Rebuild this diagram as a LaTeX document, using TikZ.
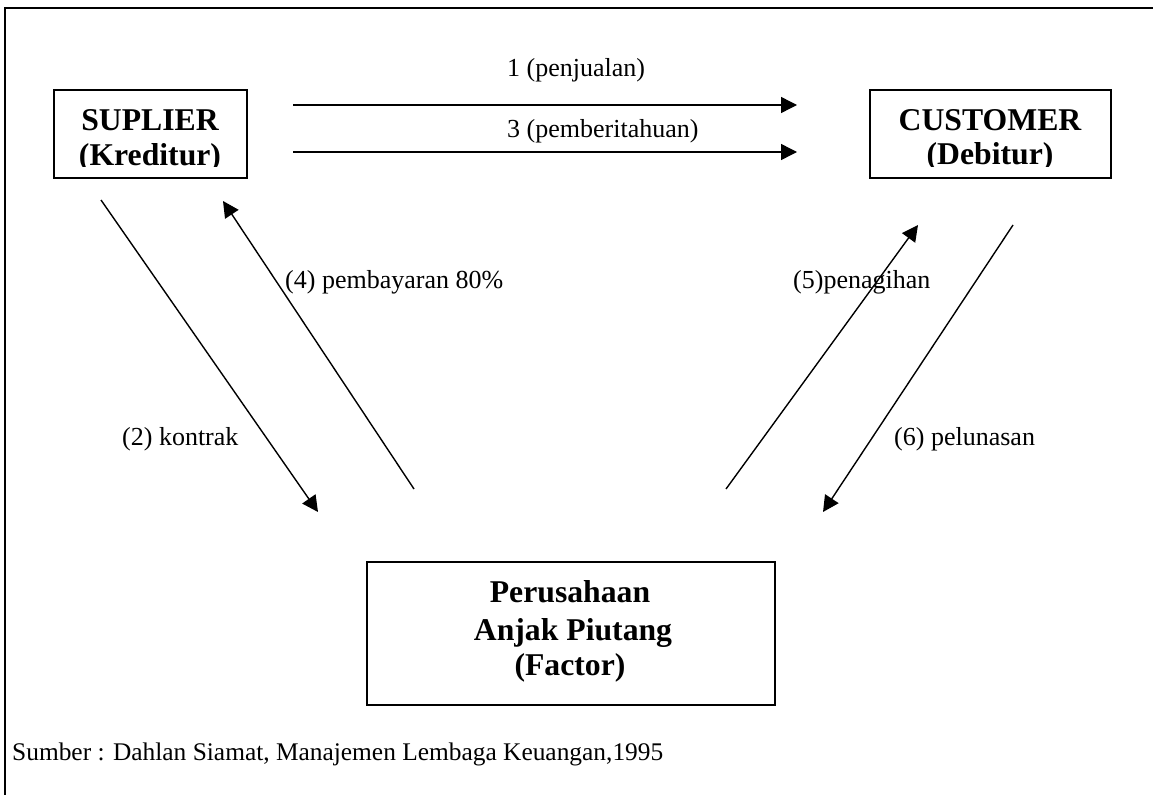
\documentclass[tikz,border=0pt]{standalone}
\usepackage{fontspec}
\setmainfont{Liberation Serif}
\usetikzlibrary{arrows.meta}
\begin{document}
\begin{tikzpicture}[x=1pt,y=-1pt,
  boxframe/.style={draw,line width=1.8pt,inner sep=0pt,anchor=north west},
  boxtext/.style={font=\fontsize{31.7}{35}\selectfont\bfseries,anchor=base,inner sep=0pt},
  lbl/.style={font=\fontsize{26}{30}\selectfont,anchor=base west,inner sep=0pt},
  flow/.style={line width=1.4pt,-{Triangle[length=16pt,width=16pt]}}]
\useasboundingbox (0,0) rectangle (1153,795);
% open frame (top and left edges)
\draw[line width=1.8pt] (1153,8) -- (5,8) -- (5,795);

% parties
\node[boxframe,minimum width=193pt,minimum height=88pt] (sup) at (53,89) {};
\node[boxframe,minimum width=241pt,minimum height=88pt] (cus) at (869,89) {};
\node[boxframe,minimum width=408pt,minimum height=143pt] (fac) at (366,561) {};

\begin{scope}
  \clip (53,89) rectangle (246,166);
  \node[boxtext] (supa) at (150,130) {SUPLIER};
  \node[boxtext] (supb) at (150,165) {(Kreditur)};
\end{scope}
\begin{scope}
  \clip (869,89) rectangle (1110,166);
  \node[boxtext] (cusa) at (990,130) {CUSTOMER};
  \node[boxtext] (cusb) at (990,164) {(Debitur)};
\end{scope}
\node[boxtext] (faca) at (570,602) {Perusahaan};
\node[boxtext] (facb) at (573,640) {Anjak Piutang};
\node[boxtext] (facc) at (570,675) {(Factor)};

% connector end points
\coordinate (s1) at (293,105);  \coordinate (e1) at (797,105);
\coordinate (s3) at (293,152);  \coordinate (e3) at (797,152);
\coordinate (s2) at (101,200);  \coordinate (e2) at (318,512);
\coordinate (s4) at (414,489);  \coordinate (e4) at (223,201);
\coordinate (s5) at (726,489);  \coordinate (e5) at (918,225);
\coordinate (s6) at (1013,225); \coordinate (e6) at (823,512);

\draw[flow] (s1) -- (e1);
\draw[flow] (s3) -- (e3);
\draw[flow] (s2) -- (e2);
\draw[flow] (s4) -- (e4);
\draw[flow] (s5) -- (e5);
\draw[flow] (s6) -- (e6);

% labels
\node[lbl] (l1) at (507,76) {1 (penjualan)};
\node[lbl] (l3) at (507,137) {3 (pemberitahuan)};
\node[lbl] (l2) at (122,445) {(2) kontrak};
\node[lbl] (l4) at (285,288) {(4) pembayaran 80\%};
\node[lbl] (l5) at (793,288) {(5)penagihan};
\node[lbl] (l6) at (894,445) {(6) pelunasan};
\node[lbl,font=\fontsize{25.4}{30}\selectfont] (src) at (12,760) {Sumber : Dahlan Siamat, Manajemen Lembaga Keuangan,1995};
\end{tikzpicture}
\end{document}
